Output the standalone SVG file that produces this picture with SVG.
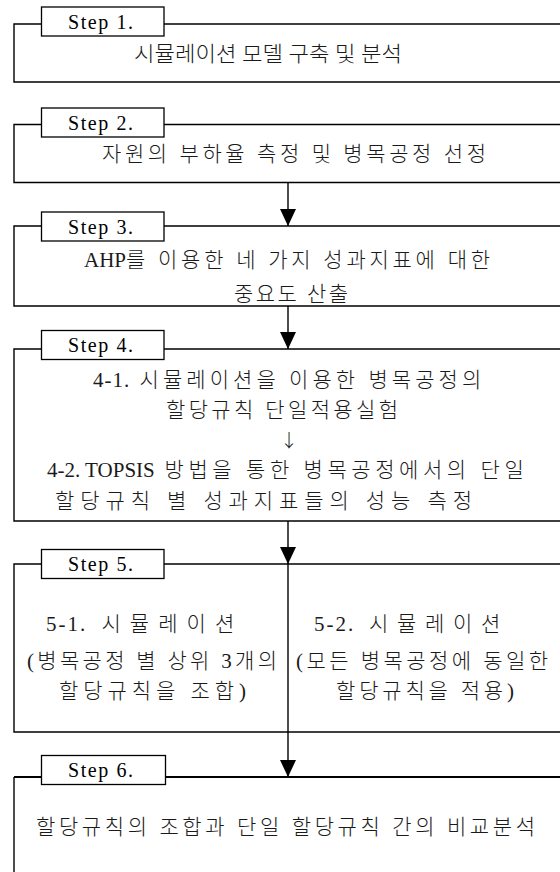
<svg xmlns="http://www.w3.org/2000/svg" width="560" height="872" viewBox="0 0 560 872">
<style>
.box{fill:none;stroke:#000;stroke-width:1.4}
.lbl{fill:#fff;stroke:#000;stroke-width:1.3}
.st{font-family:"Liberation Serif","Noto Sans CJK KR",serif;font-size:20px;fill:#000}
.t{font-family:"Liberation Serif","Noto Sans CJK KR Light","Noto Sans CJK KR",serif;font-size:21px;font-weight:300;fill:#1a1a1a}
.c{stroke:#000;stroke-width:1.4;fill:none}
</style>
<defs>
<marker id="ah" markerUnits="userSpaceOnUse" viewBox="0 0 17 16" refX="17" refY="8" markerWidth="17" markerHeight="16" orient="auto">
<path d="M0,0 L17,8 L0,16 Z" fill="#000"/>
</marker>
</defs>
<g id="connectors">
<line class="c" x1="288" y1="182.5" x2="288" y2="226" marker-end="url(#ah)"/>
<line class="c" x1="288" y1="306" x2="288" y2="349" marker-end="url(#ah)"/>
<line class="c" x1="288" y1="521" x2="288" y2="564" marker-end="url(#ah)"/>
<line class="c" x1="288" y1="732" x2="288" y2="777" marker-end="url(#ah)"/>
</g>
<g id="step1">
<path class="box" d="M570,24 H14 V82 H570"/>
<rect class="lbl" x="41.5" y="7" width="122.5" height="29"/>
<text class="st" x="68" y="28.5" textLength="65" lengthAdjust="spacing">Step  1.</text>
<text class="t" x="134" y="61" textLength="268" lengthAdjust="spacingAndGlyphs">시뮬레이션 모델 구축 및 분석</text>
</g>
<g id="step2">
<path class="box" d="M570,124.5 H14 V182.5 H570"/>
<rect class="lbl" x="41.5" y="108" width="122.5" height="29"/>
<text class="st" x="68" y="129.5" textLength="65" lengthAdjust="spacing">Step  2.</text>
<text class="t" x="102" y="161" textLength="384" lengthAdjust="spacing">자원의 부하율 측정 및 병목공정 선정</text>
</g>
<g id="step3">
<path class="box" d="M570,226 H14 V306 H570"/>
<rect class="lbl" x="41.5" y="212" width="122.5" height="29"/>
<text class="st" x="68" y="233.5" textLength="65" lengthAdjust="spacing">Step  3.</text>
<text class="t" x="84" y="266.5">AHP<tspan textLength="364" lengthAdjust="spacing">를 이용한 네 가지 성과지표에 대한</tspan></text>
<text class="t" x="234" y="301" textLength="114" lengthAdjust="spacing">중요도 산출</text>
</g>
<g id="step4">
<path class="box" d="M570,349 H14 V521 H570"/>
<rect class="lbl" x="41.5" y="330.5" width="122.5" height="29"/>
<text class="st" x="68" y="352" textLength="65" lengthAdjust="spacing">Step  4.</text>
<text class="t" x="93" y="386.5"><tspan style="letter-spacing:1px">4-1.</tspan><tspan textLength="351" lengthAdjust="spacing"> 시뮬레이션을 이용한 병목공정의</tspan></text>
<text class="t" x="166" y="416.5" textLength="232" lengthAdjust="spacing">할당규칙 단일적용실험</text>
<text x="289" y="447" text-anchor="middle" style="font-family:'Noto Sans CJK KR',sans-serif;font-size:18px;font-weight:300;fill:#111">↓</text>
<text class="t" x="47" y="477">4-2. TOPSIS<tspan textLength="369" lengthAdjust="spacing"> 방법을 통한 병목공정에서의 단일</tspan></text>
<text class="t" x="55" y="508" textLength="417" lengthAdjust="spacing">할당규칙 별 성과지표들의 성능 측정</text>
</g>
<g id="step5">
<path class="box" d="M570,564 H14 V732 H570"/>
<line class="c" x1="288" y1="564" x2="288" y2="732"/>
<rect class="lbl" x="41.5" y="549.5" width="122.5" height="29"/>
<text class="st" x="68" y="571" textLength="65" lengthAdjust="spacing">Step  5.</text>
<text class="t" x="46" y="631"><tspan style="letter-spacing:2px">5-1.</tspan><tspan textLength="147" lengthAdjust="spacing"> 시뮬레이션</tspan></text>
<text class="t" x="27" y="668" textLength="250" lengthAdjust="spacing">(병목공정 별 상위 3개의</text>
<text class="t" x="59" y="698" textLength="187" lengthAdjust="spacing">할당규칙을 조합)</text>
<text class="t" x="314" y="631"><tspan style="letter-spacing:2px">5-2.</tspan><tspan textLength="145" lengthAdjust="spacing"> 시뮬레이션</tspan></text>
<text class="t" x="296" y="668" textLength="252" lengthAdjust="spacing">(모든 병목공정에 동일한</text>
<text class="t" x="336" y="698" textLength="178" lengthAdjust="spacing">할당규칙을 적용)</text>
</g>
<g id="step6">
<path class="box" d="M14,880 V777"/>
<path class="box" d="M14,777 H570" style="stroke-width:2.2"/>
<rect class="lbl" x="41.5" y="755.5" width="124" height="29"/>
<text class="st" x="68" y="777" textLength="65" lengthAdjust="spacing">Step  6.</text>
<text class="t" x="36" y="834" textLength="499" lengthAdjust="spacing">할당규칙의 조합과 단일 할당규칙 간의 비교분석</text>
</g>
</svg>
